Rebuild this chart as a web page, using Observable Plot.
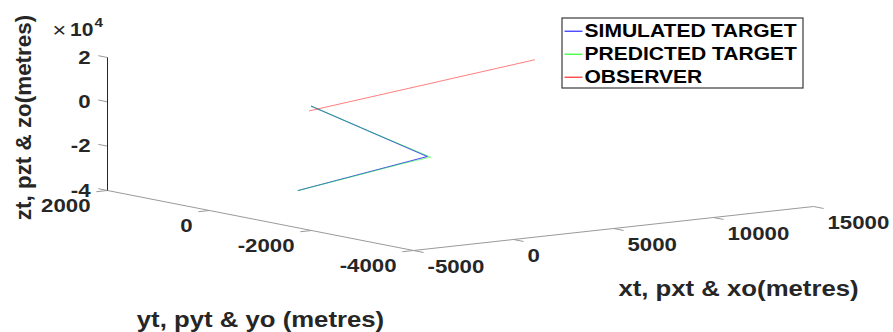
<!DOCTYPE html>
<html><head><meta charset="utf-8">
<script src="https://cdn.jsdelivr.net/npm/d3@7"></script>
<script src="https://cdn.jsdelivr.net/npm/@observablehq/plot@0.6"></script>
<style>
html,body{margin:0;padding:0;background:#fff;}
#chart{position:relative;width:893px;height:332px;overflow:hidden;}
</style></head><body><div id="chart"></div>
<script>
// ---- axis limits and ticks ----
const xLim = [-5000, 15000];
const yLim = [-4000, 2000];
const zLim = [-40000, 20000];
const xTicks = [-5000, 0, 5000, 10000, 15000];
const yTicks = [2000, 0, -2000, -4000];
const zTicks = [20000, 0, -20000, -40000];
const zTickLabels = ["2", "0", "-2", "-4"];
const zExponentTimes = "\u00d7";
const zExponentBase = "10";
const zExponent = "4";

// ---- axis titles ----
const xTitle = "xt, pxt & xo(metres)";
const yTitle = "yt, pyt & yo (metres)";
const zTitle = "zt, pzt & zo(metres)";

// ---- series (metres) ----
const targetX = [100, 5000, 380];
const targetY = [0, -350, 370];
const targetZ = [2000, -24000, -38000];

const predX = [100, 2550, 5120, 4150, 380];
const predY = [0, -170, -370, -230, 370];
const predZ = [2000, -11000, -24300, -26700, -38000];

const obsX = [0, 15000];
const obsY = [0, 1470];
const obsZ = [0, 1500];

const seriesNames = ["SIMULATED TARGET", "PREDICTED TARGET", "OBSERVER"];
const seriesColors = ["#0000ff", "#00ff00", "#ff0000"];

// ---- 3D view (MATLAB-like camera) as screen vectors of each full axis ----
const P0 = [413, 250];          // screen point of (xmin, ymin, zmin)
const vX = [400, -44];          // whole x range
const vY = [-306, -60];         // whole y range
const vZ = [0, -133];           // whole z range
function proj(x, y, z) {
  const u = (x - xLim[0]) / (xLim[1] - xLim[0]);
  const v = (y - yLim[0]) / (yLim[1] - yLim[0]);
  const w = (z - zLim[0]) / (zLim[1] - zLim[0]);
  return [P0[0] + u * vX[0] + v * vY[0] + w * vZ[0],
          P0[1] + u * vX[1] + v * vY[1] + w * vZ[1]];
}
function rows(X, Y, Z) {
  return X.map((x, i) => { const p = proj(x, Y[i], Z[i]); return {sx: p[0], sy: p[1]}; });
}
function seg(a, b) { return {x1: a[0], y1: a[1], x2: b[0], y2: b[1]}; }

const target = rows(targetX, targetY, targetZ);
const pred = rows(predX, predY, predZ);
const obs = rows(obsX, obsY, obsZ);

const xSpan = xLim[1] - xLim[0], ySpan = yLim[1] - yLim[0];
const grayAxes = [
  seg(proj(xLim[0], yLim[0], zLim[0]), proj(xLim[1], yLim[0], zLim[0])),
  seg(proj(xLim[0], yLim[0], zLim[0]), proj(xLim[0], yLim[1], zLim[0]))
];
const zAxis = [seg(proj(xLim[0], yLim[1], zLim[0]), proj(xLim[0], yLim[1], zLim[1]))];
const tickSegs = [
  ...xTicks.map(t => seg(proj(t, yLim[0], zLim[0]), proj(t, yLim[0] - 0.033 * ySpan, zLim[0]))),
  ...yTicks.map(t => seg(proj(xLim[0], t, zLim[0]), proj(xLim[0] - 0.028 * xSpan, t, zLim[0]))),
  ...zTicks.map(t => seg(proj(xLim[0], yLim[1], t), proj(xLim[0], yLim[1] + 0.03 * ySpan, t)))
];

const font = "Liberation Sans, Arial, Helvetica, sans-serif";
const ink = "#262626";
const tickFont = {fontSize: 19, fontWeight: "bold", fill: ink};

const legendTop = 18, legendLeft = 562, legendRight = 803, legendBottom = 88;
const legendRow = i => 30.7 + i * 23;

const plot = Plot.plot({
  width: 893, height: 332, margin: 0,
  style: {fontFamily: font, background: "#fff", overflow: "visible"},
  x: {type: "identity", axis: null},
  y: {type: "identity", axis: null},
  marks: [
    Plot.link(grayAxes, {x1: "x1", y1: "y1", x2: "x2", y2: "y2", stroke: "#9a9a9a", strokeWidth: 1}),
    Plot.link(tickSegs, {x1: "x1", y1: "y1", x2: "x2", y2: "y2", stroke: "#9a9a9a", strokeWidth: 1}),
    Plot.link(zAxis, {x1: "x1", y1: "y1", x2: "x2", y2: "y2", stroke: ink, strokeWidth: 1}),
    // tick labels
    Plot.text(xTicks, {x: d => proj(d, yLim[0], zLim[0])[0], y: d => proj(d, yLim[0], zLim[0])[1],
      text: d => String(d), textAnchor: "start", dx: 14, dy: 16, ...tickFont}),
    Plot.text(yTicks, {x: d => proj(xLim[0], d, zLim[0])[0], y: d => proj(xLim[0], d, zLim[0])[1],
      text: d => String(d), textAnchor: "end", dx: -17, dy: 15.5, ...tickFont}),
    Plot.text(zTicks, {x: d => proj(xLim[0], yLim[1], d)[0], y: d => proj(xLim[0], yLim[1], d)[1],
      text: (d, i) => zTickLabels[i], textAnchor: "end", dx: -17, ...tickFont}),
    Plot.text([zExponentTimes], {x: 52, y: 30, text: d => d, textAnchor: "start", fontSize: 20, fontWeight: "normal", fill: ink}),
    Plot.text([zExponentBase], {x: 93, y: 30, text: d => d, textAnchor: "end", fontSize: 18, fontWeight: "bold", fill: ink}),
    Plot.text([zExponent], {x: 94, y: 22, text: d => d, textAnchor: "start", fontSize: 13, fontWeight: "bold", fill: ink}),
    // axis titles
    Plot.text([xTitle], {x: 738, y: 288, text: d => d, fontSize: 22, fontWeight: "bold", fill: ink}),
    Plot.text([yTitle], {x: 260, y: 319, text: d => d, fontSize: 22, fontWeight: "bold", fill: ink}),
    Plot.text([zTitle], {x: 23, y: 117, text: d => d, rotate: -90, fontSize: 22.4, fontWeight: "bold", fill: ink}),
    // data
    Plot.line(target, {x: "sx", y: "sy", stroke: seriesColors[0], strokeWidth: 1.1, strokeOpacity: 0.7}),
    Plot.line(pred, {x: "sx", y: "sy", stroke: seriesColors[1], strokeWidth: 1, strokeOpacity: 0.45}),
    Plot.line(obs, {x: "sx", y: "sy", stroke: seriesColors[2], strokeWidth: 1, strokeOpacity: 0.5}),
    // legend
    Plot.rect([0], {x1: legendLeft, x2: legendRight, y1: legendTop, y2: legendBottom, fill: "#fff", stroke: "#3a3a3a", strokeWidth: 1.2}),
    Plot.link(seriesNames, {x1: legendLeft + 2, x2: legendLeft + 20, y1: (d, i) => legendRow(i), y2: (d, i) => legendRow(i),
      stroke: (d, i) => seriesColors[i], strokeWidth: 1}),
    Plot.text(seriesNames, {x: legendLeft + 22, y: (d, i) => legendRow(i), text: d => d, textAnchor: "start",
      fontSize: 18, fontWeight: "bold", fill: "#000"})
  ]
});
document.getElementById("chart").append(plot);

// the reference figure is rendered slightly wide: stretch horizontal text about its anchor point
const stretch = 1.17;
plot.querySelectorAll("text").forEach(t => {
  let tr = t.getAttribute("transform") || "";
  const ptr = (t.parentNode.getAttribute && t.parentNode.getAttribute("transform")) || "";
  if (tr.includes("rotate") || ptr.includes("rotate")) return;
  if (!tr.includes("translate")) {
    const x = +(t.getAttribute("x") || 0), y = +(t.getAttribute("y") || 0);
    t.removeAttribute("x"); t.removeAttribute("y");
    tr = `translate(${x},${y})`;
  }
  t.setAttribute("transform", `${tr} scale(${stretch},1)`);
});
</script></body></html>
